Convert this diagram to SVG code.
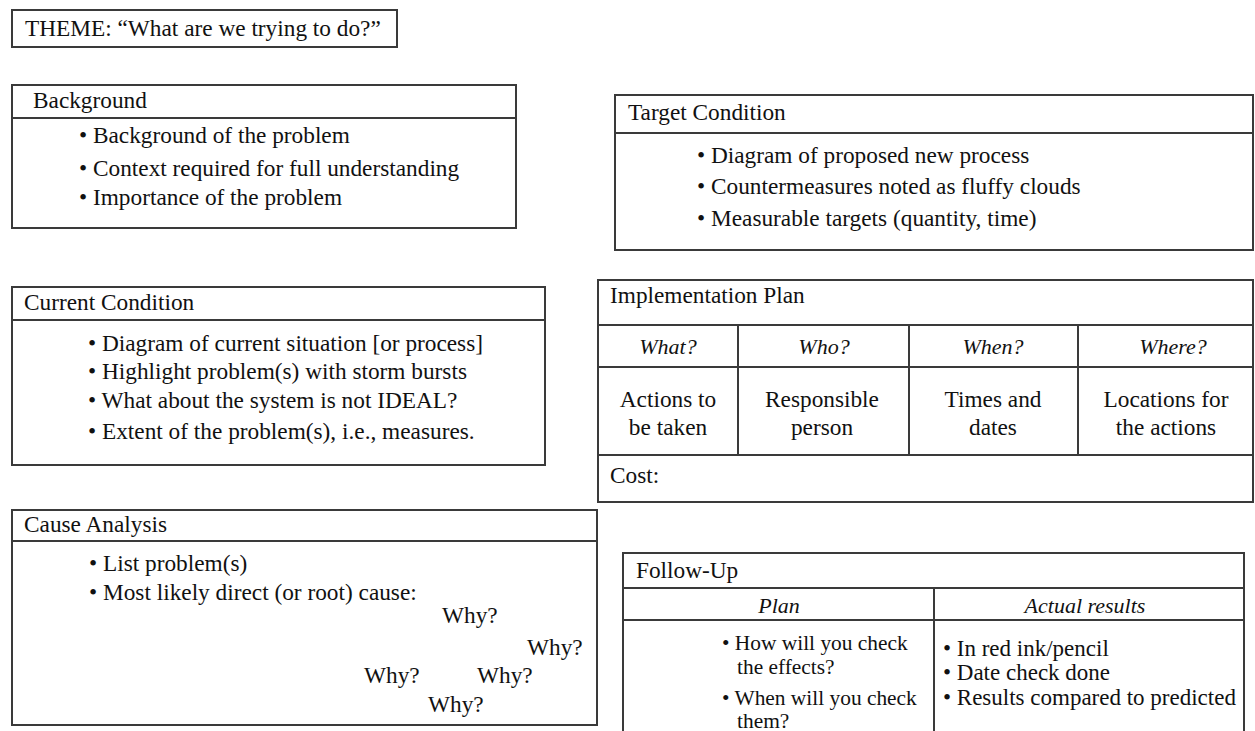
<svg xmlns="http://www.w3.org/2000/svg" width="1255" height="731" viewBox="0 0 1255 731">
<style>
text{font-family:"Liberation Serif","Times New Roman",serif;font-size:23.3px;fill:#111}
.box{fill:#fff;stroke:#3a3a3a;stroke-width:2}
.ln{stroke:#3a3a3a;stroke-width:2;fill:none}
.it{font-style:italic;font-size:22px}
.c{text-anchor:middle}
.s{font-size:21.4px}
.r{font-size:23px}
</style>
<rect width="1255" height="731" fill="#fff"/>
<g id="theme">
<rect class="box" x="12" y="10" width="385" height="37"/>
<text x="25" y="36">THEME: “What are we trying to do?”</text>
</g>
<g id="background">
<rect class="box" x="12" y="85" width="504" height="143"/>
<line class="ln" x1="12" y1="118" x2="516" y2="118"/>
<text x="33" y="108">Background</text>
<text x="79" y="143">• Background of the problem</text>
<text x="79" y="176">• Context required for full understanding</text>
<text x="79" y="205">• Importance of the problem</text>
</g>
<g id="target">
<rect class="box" x="615" y="95" width="638" height="155"/>
<line class="ln" x1="615" y1="133" x2="1253" y2="133"/>
<text x="628" y="120">Target Condition</text>
<text x="697" y="163">• Diagram of proposed new process</text>
<text x="697" y="194">• Countermeasures noted as fluffy clouds</text>
<text x="697" y="226">• Measurable targets (quantity, time)</text>
</g>
<g id="current">
<rect class="box" x="12" y="287" width="533" height="178"/>
<line class="ln" x1="12" y1="320" x2="545" y2="320"/>
<text x="24" y="310">Current Condition</text>
<text x="88" y="351">•  Diagram of current situation [or process]</text>
<text x="88" y="379">• Highlight problem(s) with storm bursts</text>
<text x="88" y="408">• What about the system is not IDEAL?</text>
<text x="88" y="439">• Extent of the problem(s), i.e., measures.</text>
</g>
<g id="implementation">
<rect class="box" x="598" y="280" width="655" height="222"/>
<line class="ln" x1="598" y1="325" x2="1253" y2="325"/>
<line class="ln" x1="598" y1="367" x2="1253" y2="367"/>
<line class="ln" x1="598" y1="455" x2="1253" y2="455"/>
<line class="ln" x1="738" y1="325" x2="738" y2="455"/>
<line class="ln" x1="909" y1="325" x2="909" y2="455"/>
<line class="ln" x1="1078" y1="325" x2="1078" y2="455"/>
<text x="610" y="303">Implementation Plan</text>
<text class="it c" x="668" y="354">What?</text>
<text class="it c" x="824" y="354">Who?</text>
<text class="it c" x="993" y="354">When?</text>
<text class="it c" x="1173" y="354">Where?</text>
<text class="c" x="668" y="407">Actions to</text>
<text class="c" x="668" y="435">be taken</text>
<text class="c" x="822" y="407">Responsible</text>
<text class="c" x="822" y="435">person</text>
<text class="c" x="993" y="407">Times and</text>
<text class="c" x="993" y="435">dates</text>
<text class="c" x="1166" y="407">Locations for</text>
<text class="c" x="1166" y="435">the actions</text>
<text x="610" y="483">Cost:</text>
</g>
<g id="cause">
<rect class="box" x="12" y="510" width="585" height="215"/>
<line class="ln" x1="12" y1="541" x2="597" y2="541"/>
<text x="24" y="532">Cause Analysis</text>
<text x="89" y="571">• List problem(s)</text>
<text x="89" y="600">• Most likely direct (or root) cause:</text>
<text x="442" y="623">Why?</text>
<text x="527" y="655">Why?</text>
<text x="364" y="683">Why?</text>
<text x="477" y="683">Why?</text>
<text x="428" y="712">Why?</text>
</g>
<g id="followup">
<rect class="box" x="623" y="553" width="621" height="190"/>
<line class="ln" x1="623" y1="588" x2="1244" y2="588"/>
<line class="ln" x1="623" y1="620" x2="1244" y2="620"/>
<line class="ln" x1="934" y1="588" x2="934" y2="743"/>
<text x="636" y="578">Follow-Up</text>
<text class="it c" x="779" y="613">Plan</text>
<text class="it c" x="1085" y="613">Actual results</text>
<text class="s" x="722" y="650">• How will you check</text>
<text class="s" x="737" y="674">the effects?</text>
<text class="s" x="722" y="705">• When will you check</text>
<text class="s" x="737" y="728">them?</text>
<text class="r" x="943" y="656">•  In red ink/pencil</text>
<text class="r" x="943" y="680">• Date check done</text>
<text class="r" x="943" y="705">• Results compared to predicted</text>
</g>
</svg>
